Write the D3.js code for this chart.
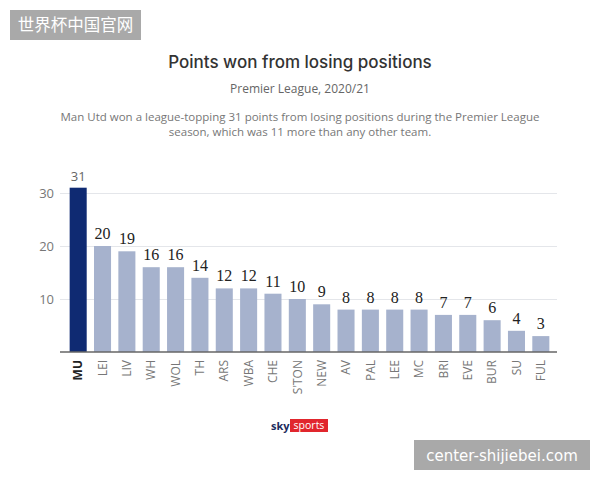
<!DOCTYPE html>
<html>
<head>
  <meta charset="UTF-8">
  <script src="https://d3js.org/d3.v7.js"></script>
  <style>
    body { margin: 0; background: #fff; }
  </style>
</head>
<body>
  <div id="chart"></div>
  <script>
    // data
    const teams = ["MU", "LEI", "LIV", "WH", "WOL", "TH", "ARS", "WBA", "CHE", "S'TON",
      "NEW", "AV", "PAL", "LEE", "MC", "BRI", "EVE", "BUR", "SU", "FUL"];
    const points = [31, 20, 19, 16, 16, 14, 12, 12, 11, 10, 9, 8, 8, 8, 8, 7, 7, 6, 4, 3];
    const yTicks = [10, 20, 30];

    const sans = '"Open Sans", "Noto Sans", sans-serif';
    const serif = '"Liberation Serif", "DejaVu Serif", serif';

    const W = 600, H = 480;
    const svg = d3.select('#chart').append('svg')
        .attr('width', W).attr('height', H)
        .style('font-family', sans);

    // header
    svg.append('text').attr('x', 300).attr('y', 68).attr('text-anchor', 'middle')
        .attr('font-size', 17).attr('font-weight', 500).attr('fill', '#333')
        .style('font-family', 'Inter, sans-serif')
        .text('Points won from losing positions');
    svg.append('text').attr('x', 300).attr('y', 93).attr('text-anchor', 'middle')
        .attr('font-size', 12).attr('fill', '#666')
        .text('Premier League, 2020/21');
    const desc = ['Man Utd won a league-topping 31 points from losing positions during the Premier League',
      'season, which was 11 more than any other team.'];
    svg.append('g').selectAll('text').data(desc).join('text')
        .attr('x', 300).attr('y', (d, i) => 121 + i * 15).attr('text-anchor', 'middle')
        .attr('font-size', 11.5).attr('fill', '#777')
        .text(d => d);

    // scales
    const x = d3.scaleBand()
        .domain(teams)
        .range([66, 553])
        .paddingInner(0.3)
        .paddingOuter(0.15);

    const y = d3.scaleLinear()
        .domain([0, 30])
        .range([352, 193]);

    // grid + y labels
    const yAxis = d3.axisLeft(y).tickValues(yTicks).tickSize(-(557 - 60)).tickPadding(6);
    svg.append('g')
        .attr('transform', 'translate(60,0)')
        .call(yAxis)
        .call(g => g.select('.domain').remove())
        .call(g => g.selectAll('.tick line').attr('stroke', '#e4e6ea'))
        .call(g => g.selectAll('.tick text').attr('font-size', 13).attr('fill', '#777')
            .style('font-family', sans));

    // bars
    svg.append('g').selectAll('rect').data(teams).join('rect')
        .attr('x', d => x(d))
        .attr('y', (d, i) => y(points[i]))
        .attr('width', x.bandwidth())
        .attr('height', (d, i) => y(0) - y(points[i]))
        .attr('fill', (d, i) => i === 0 ? '#0f2a72' : '#a6b2cd');

    // value labels
    svg.append('g').selectAll('text').data(teams).join('text')
        .attr('x', d => x(d) + x.bandwidth() / 2)
        .attr('y', (d, i) => y(points[i]) - 7)
        .attr('text-anchor', 'middle')
        .attr('font-size', (d, i) => i === 0 ? 13 : 16)
        .style('font-family', (d, i) => i === 0 ? sans : serif)
        .attr('fill', (d, i) => i === 0 ? '#666' : '#222')
        .text((d, i) => points[i]);

    // baseline + x labels
    const xAxis = d3.axisBottom(x).tickSize(0).tickPadding(0);
    svg.append('g')
        .attr('transform', `translate(0,${y(0)})`)
        .call(xAxis)
        .call(g => g.select('.domain').attr('d', 'M60,0H557').attr('stroke', '#666').attr('stroke-width', 1.5))
        .call(g => g.selectAll('.tick text')
            .attr('transform', 'rotate(-90)')
            .attr('x', -8).attr('y', 0).attr('dy', '0.35em')
            .attr('text-anchor', 'end')
            .attr('font-size', 12)
            .style('font-family', sans)
            .attr('fill', (d, i) => i === 0 ? '#222' : '#777')
            .attr('font-weight', (d, i) => i === 0 ? 700 : 400));

    // logo
    const logo = svg.append('g').attr('transform', 'translate(271,430)');
    logo.append('text').attr('x', 0).attr('y', 0)
        .attr('font-size', 11).attr('font-weight', 700).attr('fill', '#1d2c5e')
        .text('sky');
    logo.append('rect').attr('x', 19).attr('y', -11).attr('width', 38).attr('height', 13).attr('fill', '#e1262d');
    logo.append('text').attr('x', 38).attr('y', -1).attr('text-anchor', 'middle')
        .attr('font-size', 10.5).attr('fill', '#fff')
        .text('sports');

    // watermarks
    svg.append('rect').attr('x', 10).attr('y', 10).attr('width', 131).attr('height', 30).attr('fill', '#a9a9a9');
    svg.append('text').attr('x', 75.5).attr('y', 31).attr('text-anchor', 'middle')
        .attr('font-size', 16.5).attr('fill', '#fff')
        .style('font-family', '"Noto Sans CJK SC", sans-serif')
        .text('世界杯中国官网');
    svg.append('rect').attr('x', 414).attr('y', 440).attr('width', 176).attr('height', 30).attr('fill', '#a9a9a9');
    svg.append('text').attr('x', 502).attr('y', 461).attr('text-anchor', 'middle')
        .attr('font-size', 15).attr('fill', '#fff')
        .style('font-family', '"DejaVu Sans", sans-serif')
        .text('center-shijiebei.com');
  </script>
</body>
</html>
